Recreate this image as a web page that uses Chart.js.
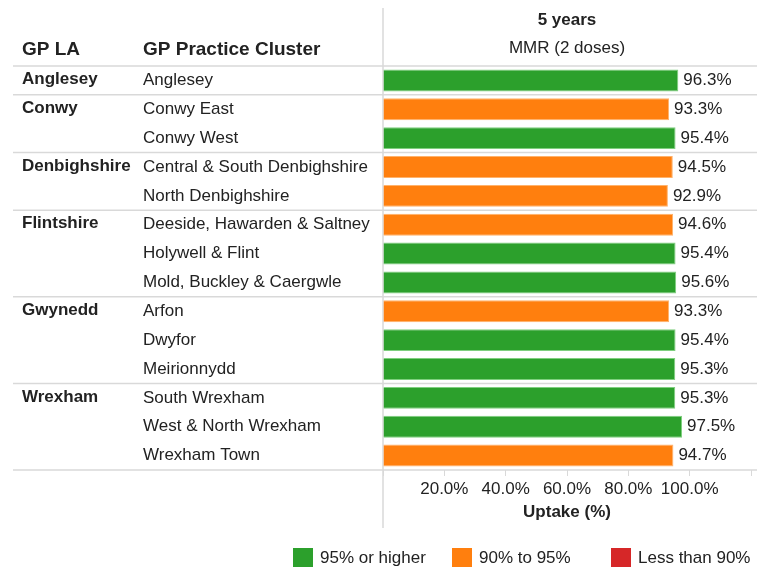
<!DOCTYPE html>
<html>
<head>
<meta charset="utf-8">
<script src="https://cdn.jsdelivr.net/npm/chart.js@4/dist/chart.umd.min.js"></script>
<style>
  html, body { margin: 0; padding: 0; background: #fff; }
  #wrap { position: relative; width: 757px; height: 567px; }
</style>
</head>
<body>
<div id="wrap"><canvas id="uptakeChart"></canvas></div>
<script>
// GP LA groups and how many clusters each one spans
const laNames = ["Anglesey", "Conwy", "Denbighshire", "Flintshire", "Gwynedd", "Wrexham"];
const laSizes = [1, 2, 2, 3, 3, 3];

const clusters = [
  "Anglesey",
  "Conwy East", "Conwy West",
  "Central & South Denbighshire", "North Denbighshire",
  "Deeside, Hawarden & Saltney", "Holywell & Flint", "Mold, Buckley & Caergwle",
  "Arfon", "Dwyfor", "Meirionnydd",
  "South Wrexham", "West & North Wrexham", "Wrexham Town"
];

// MMR (2 doses) uptake at 5 years, %
const uptake = [96.3, 93.3, 95.4, 94.5, 92.9, 94.6, 95.4, 95.6, 93.3, 95.4, 95.3, 95.3, 97.5, 94.7];

const xTicks = [0, 20, 40, 60, 80, 100, 120];
const legendLabels = ["95% or higher", "90% to 95%", "Less than 90%"];
const bandColors = ["#2ca02c", "#ff7f0e", "#d62728"];
const bandBorders = ["#7fcf7f", "#ffb26b", "#e88a8b"];

const FONT = "'Liberation Sans', Arial, sans-serif";
const TEXT = "#222222";

function band(v) {
  if (v >= 95) return 0;
  if (v >= 90) return 1;
  return 2;
}

const tablePlugin = {
  id: "tablePlugin",
  beforeDatasetsDraw(chart) {
    const ctx = chart.ctx;
    const y = chart.scales.y;
    const rowH = y.getPixelForValue(1) - y.getPixelForValue(0);
    ctx.save();
    ctx.strokeStyle = "#d9d9d9";
    ctx.lineWidth = 1.5;
    let idx = 0;
    const edges = [y.getPixelForValue(0) - rowH / 2];
    laSizes.forEach(n => {
      idx += n;
      edges.push(y.getPixelForValue(idx - 1) + rowH / 2);
    });
    edges.forEach(py => {
      ctx.beginPath();
      ctx.moveTo(13, py);
      ctx.lineTo(757, py);
      ctx.stroke();
    });
    // vertical divider between table and bars
    ctx.beginPath();
    ctx.moveTo(chart.chartArea.left, 8);
    ctx.lineTo(chart.chartArea.left, 528);
    ctx.stroke();
    ctx.restore();
  },
  afterDraw(chart) {
    const ctx = chart.ctx;
    const area = chart.chartArea;
    const y = chart.scales.y;
    ctx.save();
    ctx.fillStyle = TEXT;
    ctx.textBaseline = "middle";

    // column headers
    ctx.font = "bold 19px " + FONT;
    ctx.textAlign = "left";
    ctx.fillText("GP LA", 22, 50);
    ctx.fillText("GP Practice Cluster", 143, 50);
    ctx.font = "bold 17px " + FONT;
    ctx.textAlign = "center";
    const mid = (area.left + area.right) / 2;
    ctx.fillText("5 years", mid, 20);
    ctx.font = "17px " + FONT;
    ctx.fillText("MMR (2 doses)", mid, 48);

    // LA names
    ctx.font = "bold 17px " + FONT;
    ctx.textAlign = "left";
    let start = 0;
    laNames.forEach((name, i) => {
      ctx.fillText(name, 22, y.getPixelForValue(start) - 1);
      start += laSizes[i];
    });

    // value labels
    ctx.font = "17px " + FONT;
    const meta = chart.getDatasetMeta(0);
    meta.data.forEach((bar, i) => {
      ctx.fillText(uptake[i].toFixed(1) + "%", bar.x + 5, bar.y);
    });

    // legend
    const legendX = [293, 452, 611];
    legendLabels.forEach((lbl, i) => {
      ctx.fillStyle = bandColors[i];
      ctx.fillRect(legendX[i], 548, 20, 20);
      ctx.fillStyle = TEXT;
      ctx.fillText(lbl, legendX[i] + 27, 558);
    });
    ctx.restore();
  }
};

const ctx = document.getElementById("uptakeChart").getContext("2d");
new Chart(ctx, {
  type: "bar",
  data: {
    labels: clusters,
    datasets: [{
      data: uptake,
      backgroundColor: uptake.map(v => bandColors[band(v)]),
      borderColor: uptake.map(v => bandBorders[band(v)]),
      borderWidth: 1,
      categoryPercentage: 1,
      barPercentage: 0.76
    }]
  },
  options: {
    indexAxis: "y",
    responsive: true,
    maintainAspectRatio: false,
    animation: false,
    layout: { padding: { left: 143, right: 6, top: 66, bottom: 40 } },
    plugins: {
      legend: { display: false },
      tooltip: { enabled: false }
    },
    scales: {
      x: {
        min: 0,
        max: 120,
        afterBuildTicks: scale => { scale.ticks = xTicks.map(v => ({ value: v })); },
        afterFit: scale => { scale.height = 57; },
        grid: { drawOnChartArea: false, drawTicks: true, tickLength: 6, color: "#d9d9d9" },
        border: { display: false },
        ticks: {
          autoSkip: false,
          maxRotation: 0,
          padding: 3,
          color: TEXT,
          font: { family: FONT, size: 17 },
          callback: v => (v === 0 || v === 120) ? "" : v.toFixed(1) + "%"
        },
        title: {
          display: true,
          text: "Uptake (%)",
          color: TEXT,
          font: { family: FONT, size: 17, weight: "bold" },
          padding: { top: 0, bottom: 4 }
        }
      },
      y: {
        afterFit: scale => { scale.width = 240; },
        grid: { display: false },
        border: { display: false },
        ticks: {
          autoSkip: false,
          crossAlign: "far",
          padding: 0,
          color: TEXT,
          font: { family: FONT, size: 17 }
        }
      }
    }
  },
  plugins: [tablePlugin]
});
</script>
</body>
</html>
